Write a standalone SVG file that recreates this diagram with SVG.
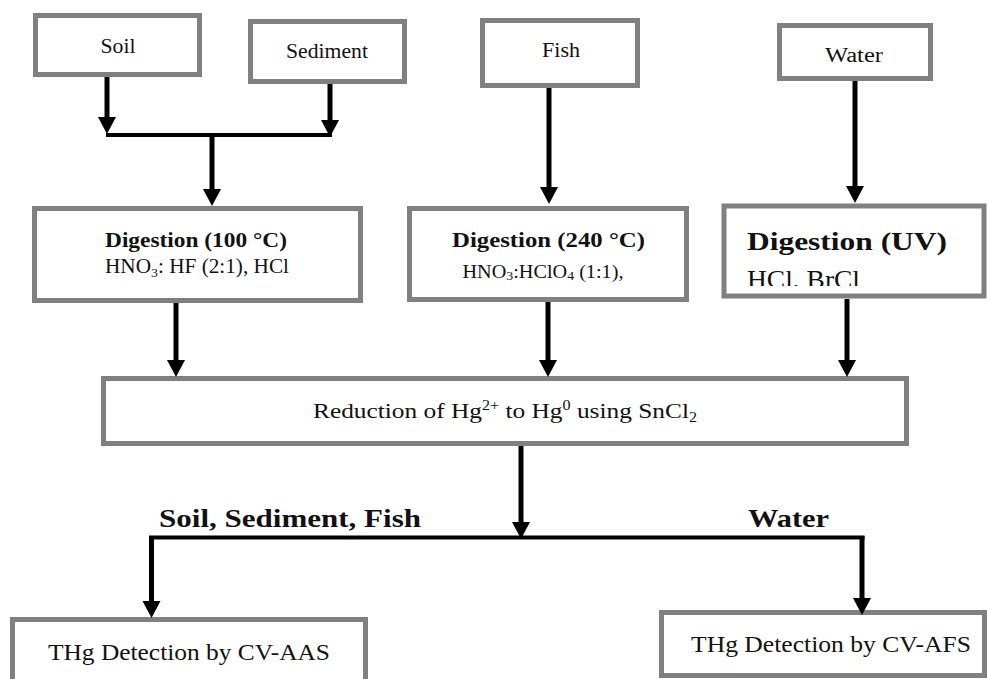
<svg xmlns="http://www.w3.org/2000/svg" width="988" height="679" viewBox="0 0 988 679">
  <style>
    .box { fill: #ffffff; stroke: #808080; stroke-width: 5; }
    .t { font-family: "Liberation Serif", "DejaVu Serif", serif; fill: #111111; }
    .b { font-weight: bold; }
    .c { text-anchor: middle; }
    .conn { stroke: #000000; stroke-width: 5; fill: none; }
    .bar { stroke: #000000; stroke-width: 4; fill: none; }
  </style>
  <defs>
    <marker id="ah" markerUnits="userSpaceOnUse" markerWidth="17" markerHeight="18" refX="5" refY="9" orient="auto" overflow="visible">
      <path d="M0,0 L17,9 L0,18 Z" fill="#000000"/>
    </marker>
    <clipPath id="uvclip">
      <rect x="724" y="206" width="260" height="80"/>
    </clipPath>
  </defs>

  <g id="soil">
    <rect class="box" x="35.5" y="15.5" width="164" height="59"/>
    <text class="t c" x="118" y="53" font-size="20" textLength="35" lengthAdjust="spacingAndGlyphs">Soil</text>
  </g>
  <g id="sediment">
    <rect class="box" x="250.5" y="21.5" width="154" height="60"/>
    <text class="t c" x="327" y="58" font-size="20" textLength="82" lengthAdjust="spacingAndGlyphs">Sediment</text>
  </g>
  <g id="fish">
    <rect class="box" x="482.5" y="20.5" width="155" height="65"/>
    <text class="t c" x="561" y="57" font-size="20" textLength="38" lengthAdjust="spacingAndGlyphs">Fish</text>
  </g>
  <g id="water">
    <rect class="box" x="779.5" y="25.5" width="151" height="53"/>
    <text class="t c" x="854" y="62" font-size="20" textLength="58" lengthAdjust="spacingAndGlyphs">Water</text>
  </g>

  <g id="digestion-100">
    <rect class="box" x="34.5" y="208.5" width="326" height="92"/>
    <text class="t b c" x="196" y="247" font-size="21" textLength="182" lengthAdjust="spacingAndGlyphs">Digestion (100 °C)</text>
    <text class="t c" x="197" y="273" font-size="20" textLength="184" lengthAdjust="spacingAndGlyphs">HNO<tspan font-size="13" dy="4">3</tspan><tspan dy="-4">: HF (2:1), HCl</tspan></text>
  </g>
  <g id="digestion-240">
    <rect class="box" x="409.5" y="208.5" width="277" height="91"/>
    <text class="t b c" x="548.5" y="247" font-size="22" textLength="193" lengthAdjust="spacingAndGlyphs">Digestion (240 °C)</text>
    <text class="t c" x="543" y="278" font-size="19" textLength="161" lengthAdjust="spacingAndGlyphs">HNO<tspan font-size="13" dy="2">3</tspan><tspan dy="-2">:HClO</tspan><tspan font-size="13" dy="2">4</tspan><tspan dy="-2"> (1:1),</tspan></text>
  </g>
  <g id="digestion-uv">
    <rect class="box" x="724" y="206" width="260" height="90" stroke-width="6"/>
    <text class="t b" x="747" y="250" font-size="26" textLength="200" lengthAdjust="spacingAndGlyphs">Digestion (UV)</text>
    <text class="t" x="747" y="288" font-size="25" textLength="113" lengthAdjust="spacingAndGlyphs" clip-path="url(#uvclip)">HCl, BrCl</text>
  </g>

  <g id="reduction">
    <rect class="box" x="103.5" y="378.5" width="803" height="65"/>
    <text class="t c" x="505" y="418" font-size="22" textLength="384" lengthAdjust="spacingAndGlyphs">Reduction of Hg<tspan font-size="14" dy="-8">2+</tspan><tspan dy="8"> to Hg</tspan><tspan font-size="14" dy="-8">0</tspan><tspan dy="8"> using SnCl</tspan><tspan font-size="14" dy="4">2</tspan></text>
  </g>

  <g id="label-soil-sediment-fish">
    <text class="t b" x="159" y="527" font-size="25" textLength="262" lengthAdjust="spacingAndGlyphs">Soil, Sediment, Fish</text>
  </g>
  <g id="label-water">
    <text class="t b" x="748" y="527" font-size="25" textLength="81" lengthAdjust="spacingAndGlyphs">Water</text>
  </g>

  <g id="cv-aas">
    <rect class="box" x="12.5" y="619.5" width="353" height="80"/>
    <text class="t c" x="189" y="660" font-size="23" textLength="282" lengthAdjust="spacingAndGlyphs">THg Detection by CV-AAS</text>
  </g>
  <g id="cv-afs">
    <rect class="box" x="661.5" y="612.5" width="323" height="63"/>
    <text class="t c" x="831" y="652" font-size="23" textLength="280" lengthAdjust="spacingAndGlyphs">THg Detection by CV-AFS</text>
  </g>

  <g id="connectors">
    <path class="conn" d="M107,77 V122" marker-end="url(#ah)"/>
    <path class="conn" d="M330,84 V125" marker-end="url(#ah)"/>
    <path class="bar" d="M106,135 H332"/>
    <path class="conn" d="M212,137 V194" marker-end="url(#ah)"/>
    <path class="conn" d="M549,88 V192" marker-end="url(#ah)"/>
    <path class="conn" d="M855,81 V191" marker-end="url(#ah)"/>
    <path class="conn" d="M176,303 V365" marker-end="url(#ah)"/>
    <path class="conn" d="M548,302 V365" marker-end="url(#ah)"/>
    <path class="conn" d="M847,299 V365" marker-end="url(#ah)"/>
    <path class="conn" d="M521,446 V527" marker-end="url(#ah)"/>
    <path class="bar" d="M149,537.5 H864.5"/>
    <path class="conn" d="M151.5,536 V606" marker-end="url(#ah)"/>
    <path class="conn" d="M862,536 V603" marker-end="url(#ah)"/>
  </g>
</svg>
